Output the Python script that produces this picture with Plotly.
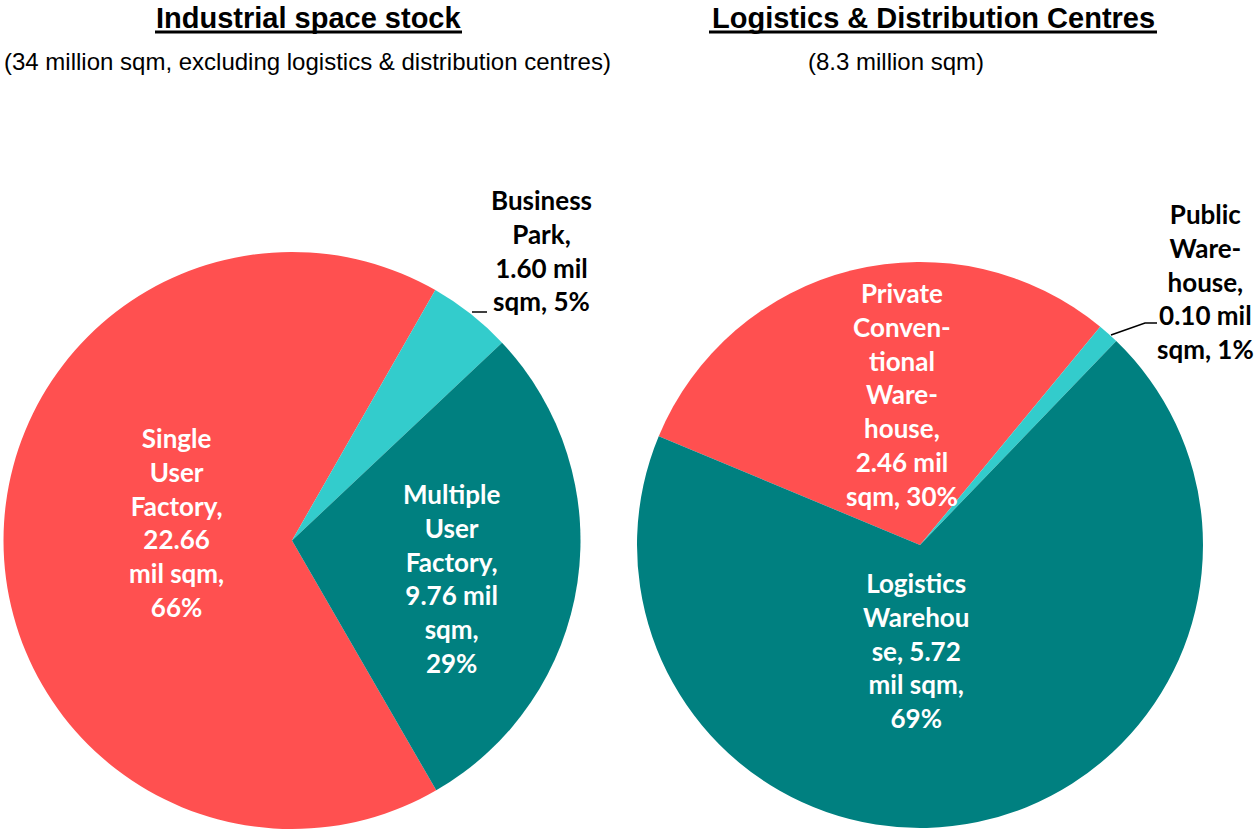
import plotly.graph_objects as go

W, H = 1256, 829

# ---- data ----
left_labels = ["Single User Factory", "Business Park", "Multiple User Factory"]
left_values = [22.66, 1.60, 9.76]
left_pcts = [66, 5, 29]
left_text = [
    "Single<br>User<br>Factory,<br>{:.2f}<br>mil sqm,<br>{}%",
    "Business<br>Park,<br>{:.2f} mil<br>sqm, {}%",
    "Multiple<br>User<br>Factory,<br>{:.2f} mil<br>sqm,<br>{}%",
]

right_labels = ["Private Conventional Warehouse", "Public Warehouse", "Logistics Warehouse"]
right_values = [2.46, 0.10, 5.72]
right_pcts = [30, 1, 69]
right_text = [
    "Private<br>Conven-<br>tional<br>Ware-<br>house,<br>{:.2f} mil<br>sqm, {}%",
    "Public<br>Ware-<br>house,<br>{:.2f} mil<br>sqm, {}%",
    "Logistics<br>Warehou<br>se, {:.2f}<br>mil sqm,<br>{}%",
]

titles = ["Industrial space stock", "Logistics & Distribution Centres"]
subtitles = ["(34 million sqm, excluding logistics & distribution centres)", "(8.3 million sqm)"]

colors = ["#FF5050", "#33CCCC", "#008080"]

# ---- layout helpers ----
def px(x):
    return x / W

def py(y):
    return 1 - y / H

fig = go.Figure()
fig.add_trace(go.Pie(
    labels=left_labels, values=left_values, sort=False, direction="clockwise",
    rotation=150, textinfo="none", hoverinfo="label+value+percent",
    marker=dict(colors=colors, line=dict(width=0)),
    domain=dict(x=[px(3), px(581)], y=[0, py(252)]),
    showlegend=False,
))
fig.add_trace(go.Pie(
    labels=right_labels, values=right_values, sort=False, direction="clockwise",
    rotation=-67.4, textinfo="none", hoverinfo="label+value+percent",
    marker=dict(colors=colors, line=dict(width=0)),
    domain=dict(x=[px(637), px(1203)], y=[py(828), py(262)]),
    showlegend=False,
))

label_font = "Lato, 'Open Sans', sans-serif"
annotations = []
# label positions (pixel anchor) , colours, anchor
left_pos = [(176, 522, "white", "center"), (541, 251, "black", "center"), (451, 578, "white", "center")]
right_pos = [(902, 394, "white", "center"), (1256, 281, "black", "right"), (916, 650, "white", "center")]
for tmpl, v, p, (x, y, c, xa) in zip(left_text + right_text, left_values + right_values,
                                     left_pcts + right_pcts, left_pos + right_pos):
    annotations.append(dict(text="<b>" + tmpl.format(v, p) + "</b>", x=px(x), y=py(y),
                            xref="paper", yref="paper", showarrow=False,
                            xanchor=xa, yanchor="middle", align="center",
                            font=dict(family=label_font, size=26, color=c)))

title_font = "'Liberation Sans', Arial, sans-serif"
for t, s, tx, sx in zip(titles, subtitles, [308, 933], [307, 896]):
    annotations.append(dict(text="<b>" + t + "</b>", x=px(tx), y=py(18),
                            xref="paper", yref="paper", showarrow=False,
                            xanchor="center", yanchor="middle",
                            font=dict(family=title_font, size=29, color="black")))
    annotations.append(dict(text=s, x=px(sx), y=py(61),
                            xref="paper", yref="paper", showarrow=False,
                            xanchor="center", yanchor="middle",
                            font=dict(family=title_font, size=24, color="black")))

shapes = [
    # title underlines
    dict(type="line", xref="paper", yref="paper", x0=px(155), x1=px(462), y0=py(32), y1=py(32),
         line=dict(color="black", width=3)),
    dict(type="line", xref="paper", yref="paper", x0=px(709), x1=px(1157), y0=py(32), y1=py(32),
         line=dict(color="black", width=3)),
    # leader lines
    dict(type="line", xref="paper", yref="paper", x0=px(472), x1=px(487), y0=py(312), y1=py(312),
         line=dict(color="black", width=1.5)),
    dict(type="path", xref="paper", yref="paper",
         path=f"M {px(1111)} {py(335)} L {px(1145)} {py(323)} L {px(1157)} {py(323)}",
         line=dict(color="black", width=1.5)),
]

fig.update_layout(
    width=W, height=H, margin=dict(l=0, r=0, t=0, b=0),
    paper_bgcolor="white", plot_bgcolor="white",
    annotations=annotations, shapes=shapes,
)
fig.write_html("out.html", config={"displayModeBar": False},
               post_script="document.body.style.margin='0';document.body.style.overflow='hidden';")
